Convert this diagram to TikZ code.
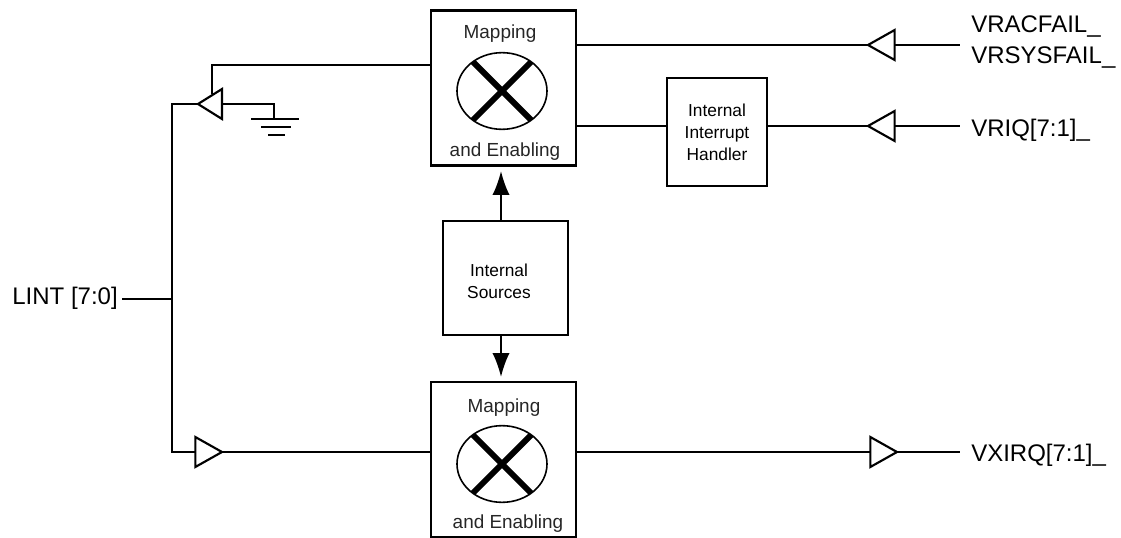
\documentclass[tikz,border=0pt]{standalone}
\usepackage{fontspec}
\setmainfont{Liberation Sans}
\usetikzlibrary{arrows.meta,shapes.geometric}
\tikzset{
  blockbox/.style={draw, line width=1.7pt, inner sep=0pt, outer sep=0pt},
  mapcircle/.style={draw, ellipse, line width=1.2pt, minimum width=67.5pt, minimum height=57.5pt, inner sep=0pt, outer sep=0pt},
  crossbar/.style={line width=4.5pt},
  wire/.style={line width=1.5pt},
  buffer/.style={draw, isosceles triangle, isosceles triangle stretches, line width=1.6pt, minimum width=22.5pt, minimum height=20pt, inner sep=0pt, outer sep=0pt, anchor=apex},
  smalltext/.style={font=\fontsize{14.2}{20}\selectfont, inner sep=0pt, anchor=base, text=black!85},
  boxtext/.style={font=\fontsize{13}{16.5}\selectfont, align=center},
  signal/.style={font=\fontsize{18}{20}\selectfont, inner sep=0pt, anchor=base west},
  solidhead/.style={wire, -{Latex[length=18pt,width=13pt]}}
}
\begin{document}
\begin{tikzpicture}[x=0.75pt,y=-0.75pt]
      \useasboundingbox (0,0) rectangle (1121,538);

      % blocks
      \node [blockbox, minimum width=108.75pt, minimum height=116.25pt] (maptop) at (503.5,88) {};
      \node [blockbox, minimum width=108.75pt, minimum height=116.25pt] (mapbot) at (503.5,459.5) {};
      \node [blockbox, minimum width=93.75pt, minimum height=85.5pt] (sources) at (505.5,278) {};
      \node [blockbox, minimum width=75pt, minimum height=81pt] (handler) at (717,132) {};

      \node [smalltext] (maptoplabel) at (500,39) {Mapping};
      \node [smalltext] (maptopand) at (505,157) {and Enabling};
      \node [smalltext] (mapbotlabel) at (504,412) {Mapping};
      \node [smalltext] (mapbotand) at (508,528) {and Enabling};
      \node [boxtext] (sourceslabel) at (499,281) {Internal\\Sources};
      \node [boxtext] (handlerlabel) at (717,132) {Internal\\Interrupt\\Handler};

      % crossbar circles
      \foreach \name/\ypos in {maptop/91, mapbot/464} {
        \node [mapcircle] (\name circle) at (502,\ypos) {};
        \draw [crossbar] (\name circle.45) -- (\name circle.225);
        \draw [crossbar] (\name circle.135) -- (\name circle.315);
      }

      % buffers
      \node [buffer, shape border rotate=180, minimum height=18pt] (bufint) at (198,104) {};
      \node [buffer] (bufvx) at (222,452) {};
      \node [buffer, shape border rotate=180] (bufac) at (868,45) {};
      \node [buffer, shape border rotate=180] (bufiq) at (868,126) {};
      \node [buffer] (bufxirq) at (897,452) {};

      % signal names
      \node [signal] (vracfail) at (971,33) {VRACFAIL\_};
      \node [signal] (vrsysfail) at (971,64) {VRSYSFAIL\_};
      \node [signal] (vriq) at (971,137) {VRIQ[7:1]\_};
      \node [signal] (vxirq) at (971,461) {VXIRQ[7:1]\_};
      \node [signal, anchor=base east] (lint) at (118,305) {LINT [7:0]};

      % free ends
      \coordinate (acend) at (960,45);
      \coordinate (iqend) at (960,126);
      \coordinate (xirqend) at (960,452);
      \coordinate (bus) at (172,299);
      \coordinate (topbend) at (212,65);
      \coordinate (gndtop) at (274,104);
      \coordinate (gndA) at (274,119);
      \coordinate (uptip) at (501,171);
      \coordinate (downtip) at (501,377);

      % wires
      \draw [wire] (lint.east |- bus) ++(4,0) -- (bus);
      \draw [wire] (bufint.apex) -- (bufint.apex -| bus) -- (bufvx.lower side -| bus) -- (bufvx.lower side);
      \draw [wire] (bufvx.apex) -- (mapbot.west |- bufvx.apex);
      \draw [wire] (mapbot.east |- bufxirq.apex) -- (bufxirq.lower side);
      \draw [wire] (bufxirq.apex) -- (xirqend);
      \draw [wire] (maptop.west |- topbend) -- (topbend) -- (topbend |- bufint.north);
      \draw [wire] (maptop.east |- bufac.apex) -- (bufac.apex);
      \draw [wire] (bufac.lower side) -- (acend);
      \draw [wire] (maptop.east |- bufiq.apex) -- (handler.west |- bufiq.apex);
      \draw [wire] (handler.east |- bufiq.apex) -- (bufiq.apex);
      \draw [wire] (bufiq.lower side) -- (iqend);

      % ground
      \draw [wire] (bufint.lower side) -- (gndtop) -- (gndA);
      \draw [wire, line width=1.6pt] (251,119) -- (299,119);
      \draw [wire, line width=1.6pt] (261,127) -- (291,127);
      \draw [wire, line width=1.6pt] (268,135) -- (285,135);

      % control arrows
      \draw [solidhead] (uptip |- sources.north) -- (uptip);
      \draw [solidhead] (downtip |- sources.south) -- (downtip);
\end{tikzpicture}
\end{document}
